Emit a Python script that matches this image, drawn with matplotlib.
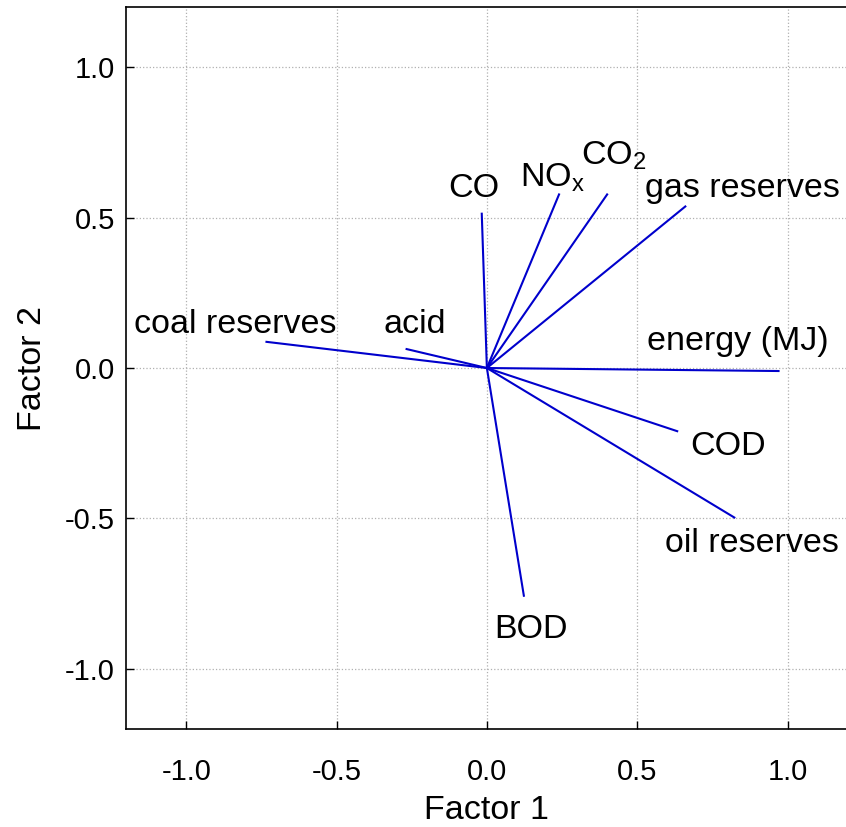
import matplotlib
matplotlib.use('Agg')
import matplotlib.pyplot as plt

# factor loadings (Factor 1, Factor 2)
variables = ["coal reserves", "acid", "CO", "NO$_x$", "CO$_2$", "gas reserves",
             "energy (MJ)", "COD", "oil reserves", "BOD"]
factor1 = [-0.733, -0.267, -0.017, 0.240, 0.400, 0.660, 0.970, 0.633, 0.823, 0.123]
factor2 = [0.087, 0.063, 0.513, 0.577, 0.577, 0.537, -0.010, -0.210, -0.497, -0.757]

# label anchor points (left / baseline)
label_x = [-1.173, -0.343, -0.130, 0.110, 0.313, 0.527, 0.533, 0.677, 0.593, 0.023]
label_y = [0.117, 0.117, 0.567, 0.603, 0.677, 0.570, 0.060, -0.290, -0.613, -0.897]

ticks = [-1.0, -0.5, 0.0, 0.5, 1.0]
tick_labels = ["-1.0", "-0.5", "0.0", "0.5", "1.0"]

plt.rcParams['font.family'] = ['Liberation Sans', 'DejaVu Sans']
plt.rcParams['mathtext.default'] = 'regular'

fig = plt.figure(figsize=(8.46, 8.27), dpi=100)
ax = fig.add_axes([0.149, 0.1185, 0.853, 0.873])

for i in range(len(variables)):
    ax.plot([0, factor1[i]], [0, factor2[i]], color='#0000cc', linewidth=1.5)
    ax.text(label_x[i], label_y[i], variables[i], fontsize=24.5,
            ha='left', va='baseline', color='black')

ax.set_xlim(-1.2, 1.2)
ax.set_ylim(-1.2, 1.2)
ax.set_xticks(ticks)
ax.set_xticklabels(tick_labels)
ax.set_yticks(ticks)
ax.set_yticklabels(tick_labels)
ax.tick_params(direction='in', length=6, width=1, labelsize=21)
ax.tick_params(axis='x', pad=21)
ax.tick_params(axis='y', pad=8)
ax.grid(True, linestyle=':', color='#b0b0b0', linewidth=0.9)
ax.set_axisbelow(True)
for s in ax.spines.values():
    s.set_linewidth(1.2)

ax.set_xlabel("Factor 1", fontsize=24.5, labelpad=6)
ax.set_ylabel("Factor 2", fontsize=24.5, labelpad=12)

plt.savefig("out.png", dpi=100)
